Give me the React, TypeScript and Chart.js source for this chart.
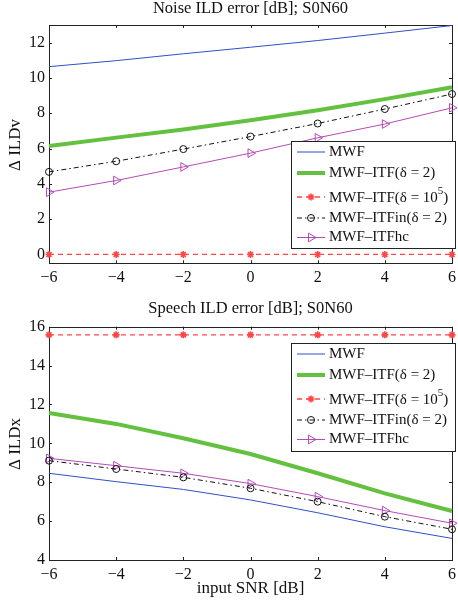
import React, { useEffect, useRef } from 'react';
import { Chart, registerables } from 'chart.js';
import { drawPoint } from 'chart.js/helpers';

Chart.register(...registerables);

const snr = [-6, -4, -2, 0, 2, 4, 6];
const xTicks = [-6, -4, -2, 0, 2, 4, 6];

const seriesLabels = ['MWF', 'MWF–ITF(δ = 2)', 'MWF–ITF(δ = 10^5)', 'MWF–ITFin(δ = 2)', 'MWF–ITFhc'];

const noiseMWF = [10.64, 10.98, 11.37, 11.74, 12.12, 12.54, 12.97];
const noiseITF = [6.15, 6.62, 7.08, 7.6, 8.17, 8.8, 9.47];
const noiseITF1e5 = [0, 0, 0, 0, 0, 0, 0];
const noiseITFin = [4.68, 5.28, 5.97, 6.68, 7.42, 8.24, 9.09];
const noiseITFhc = [3.53, 4.19, 4.96, 5.74, 6.61, 7.39, 8.31];
const noiseYTicks = [0, 2, 4, 6, 8, 10, 12];

const speechMWF = [8.46, 8.03, 7.63, 7.09, 6.43, 5.71, 5.11];
const speechITF = [11.56, 11.0, 10.26, 9.45, 8.46, 7.43, 6.52];
const speechITF1e5 = [15.58, 15.58, 15.58, 15.58, 15.58, 15.58, 15.58];
const speechITFin = [9.11, 8.68, 8.25, 7.69, 7.0, 6.23, 5.58];
const speechITFhc = [9.23, 8.85, 8.46, 7.93, 7.26, 6.54, 5.89];
const speechYTicks = [4, 6, 8, 10, 12, 14, 16];

const FONT = "'Liberation Serif', 'Times New Roman', serif";

const styles = [
  { color: '#2f4fc6', width: 1, dash: [], point: false as any, radius: 0, rot: 0 },
  { color: '#63c13f', width: 4, dash: [], point: false as any, radius: 0, rot: 0 },
  { color: '#ff4646', width: 1.3, dash: [5, 4], point: 'star', radius: 3.5, rot: 0 },
  { color: '#111111', width: 1, dash: [5, 3, 1.5, 3], point: 'circle', radius: 3.5, rot: 0 },
  { color: '#b44ab4', width: 1, dash: [], point: 'triangle', radius: 5, rot: 90 },
];

function makeDatasets(values: number[][]) {
  return values.map((vals, i) => {
    const s = styles[i];
    return {
      label: seriesLabels[i],
      data: snr.map((x, j) => ({ x, y: vals[j] })),
      borderColor: s.color,
      borderWidth: s.width,
      borderDash: s.dash,
      pointStyle: s.point || 'circle',
      pointRadius: s.radius,
      pointRotation: s.rot,
      pointBorderColor: s.color,
      pointBackgroundColor: i === 2 ? s.color : 'rgba(0,0,0,0)',
      pointBorderWidth: i === 2 ? 1.6 : 1,
      tension: 0,
      clip: false as any,
      order: i,
    };
  });
}

const panelPlugin = {
  id: 'panel',
  beforeDatasetsDraw(chart: any, _args: any, opts: any) {
    const { ctx, chartArea: a } = chart;
    const xs = chart.scales.x;
    const ys = chart.scales.y;
    ctx.save();
    ctx.strokeStyle = '#222';
    ctx.lineWidth = 1;
    ctx.setLineDash([]);
    ctx.strokeRect(Math.round(a.left) + 0.5, Math.round(a.top) + 0.5, Math.round(a.right - a.left), Math.round(a.bottom - a.top));
    const tl = 3;
    ctx.beginPath();
    for (const v of xTicks) {
      const px = Math.round(xs.getPixelForValue(v)) + 0.5;
      ctx.moveTo(px, a.bottom);
      ctx.lineTo(px, a.bottom - tl);
      ctx.moveTo(px, a.top);
      ctx.lineTo(px, a.top + tl);
    }
    for (const v of opts.yTicks) {
      const py = Math.round(ys.getPixelForValue(v)) + 0.5;
      ctx.moveTo(a.left, py);
      ctx.lineTo(a.left + tl, py);
      ctx.moveTo(a.right, py);
      ctx.lineTo(a.right - tl, py);
    }
    ctx.stroke();
    ctx.restore();
  },
  afterDatasetsDraw(chart: any, _args: any, opts: any) {
    const { ctx, chartArea: a } = chart;
    ctx.save();
    // title
    ctx.fillStyle = '#111';
    ctx.font = `16.5px ${FONT}`;
    ctx.textAlign = 'center';
    ctx.textBaseline = 'alphabetic';
    ctx.fillText(opts.title, (a.left + a.right) / 2, opts.titleY);
    if (opts.xlabel) {
      ctx.font = `17px ${FONT}`;
      ctx.fillText(opts.xlabel, (a.left + a.right) / 2, opts.xlabelY);
    }
    // y label
    ctx.save();
    ctx.font = `17px ${FONT}`;
    ctx.translate(opts.ylabelX, opts.ylabelY);
    ctx.rotate(-Math.PI / 2);
    ctx.textBaseline = 'middle';
    ctx.fillText(opts.ylabel, 0, 0);
    ctx.restore();

    // legend
    const b = opts.legendBox;
    ctx.fillStyle = '#fff';
    ctx.fillRect(b.x, b.y, b.w, b.h);
    ctx.strokeStyle = '#222';
    ctx.lineWidth = 1;
    ctx.setLineDash([]);
    ctx.strokeRect(b.x + 0.5, b.y + 0.5, b.w, b.h);
    const rows = [11, 32, 56, 77, 96.5];
    chart.data.datasets.forEach((ds: any, i: number) => {
      const y = b.y + rows[i];
      const s = styles[i];
      const x0 = b.x + 6;
      const x1 = b.x + 34;
      ctx.save();
      ctx.strokeStyle = s.color;
      ctx.lineWidth = s.width;
      ctx.setLineDash(s.dash);
      ctx.beginPath();
      ctx.moveTo(x0, y);
      ctx.lineTo(x1, y);
      ctx.stroke();
      ctx.restore();
      if (s.point) {
        ctx.save();
        ctx.strokeStyle = s.color;
        ctx.fillStyle = i === 2 ? s.color : 'rgba(0,0,0,0)';
        ctx.lineWidth = i === 2 ? 1.6 : 1;
        ctx.setLineDash([]);
        drawPoint(ctx, { pointStyle: s.point, rotation: s.rot, radius: s.radius, borderWidth: ctx.lineWidth } as any, (x0 + x1) / 2, y);
        ctx.restore();
      }
      // text
      ctx.fillStyle = '#111';
      ctx.font = `15px ${FONT}`;
      ctx.textAlign = 'left';
      ctx.textBaseline = 'middle';
      const label: string = ds.label;
      let tx = b.x + 38;
      if (label.includes('^')) {
        const [pre, rest] = label.split('^');
        const sup = rest.slice(0, 1);
        const post = rest.slice(1);
        ctx.fillText(pre, tx, y + 1);
        tx += ctx.measureText(pre).width;
        ctx.font = `11px ${FONT}`;
        ctx.fillText(sup, tx, y - 6);
        tx += ctx.measureText(sup).width;
        ctx.font = `15px ${FONT}`;
        ctx.fillText(post, tx, y + 1);
      } else {
        ctx.fillText(label, tx, y);
      }
    });
    ctx.restore();
  },
};

function makeConfig(p: any): any {
  return {
    type: 'line',
    data: { datasets: makeDatasets(p.values) },
    plugins: [panelPlugin],
    options: {
      animation: false,
      responsive: false,
      maintainAspectRatio: false,
      layout: { padding: { left: 0, right: 3, top: p.padTop, bottom: 0 } },
      plugins: {
        legend: { display: false },
        tooltip: { enabled: false },
        title: { display: false },
        panel: {
          title: p.title,
          titleY: p.titleY,
          xlabel: p.xlabel,
          xlabelY: p.xlabelY,
          ylabel: p.ylabel,
          ylabelX: 16,
          ylabelY: p.ylabelY,
          yTicks: p.yTicks,
          legendBox: p.legendBox,
        },
      },
      scales: {
        x: {
          type: 'linear',
          min: -6,
          max: 6,
          afterFit: (s: any) => {
            s.height = p.xHeight;
            s.paddingLeft = 0;
            s.paddingRight = 0;
          },
          afterBuildTicks: (s: any) => { s.ticks = xTicks.map((v) => ({ value: v })); },
          grid: { display: false, drawTicks: false },
          border: { display: false },
          ticks: {
            padding: 5,
            color: '#111',
            font: { family: FONT, size: 16 },
            maxRotation: 0,
            autoSkip: false,
            callback: (v: number) => String(v).replace('-', '−'),
          },
        },
        y: {
          type: 'linear',
          min: p.yMin,
          max: p.yMax,
          afterFit: (s: any) => {
            s.width = 49;
            s.paddingTop = 0;
            s.paddingBottom = 0;
          },
          afterBuildTicks: (s: any) => { s.ticks = p.yTicks.map((v: number) => ({ value: v })); },
          grid: { display: false, drawTicks: false },
          border: { display: false },
          ticks: {
            padding: 4,
            color: '#111',
            font: { family: FONT, size: 16 },
            autoSkip: false,
            callback: (v: number) => String(v).replace('-', '−'),
          },
        },
      },
    },
  };
}

const topPanel = {
  values: [noiseMWF, noiseITF, noiseITF1e5, noiseITFin, noiseITFhc],
  title: 'Noise ILD error [dB]; S0N60',
  titleY: 12.5,
  xlabel: '',
  xlabelY: 0,
  ylabel: 'Δ ILDv',
  ylabelY: 145,
  yTicks: noiseYTicks,
  yMin: -0.5,
  yMax: 13,
  padTop: 25,
  xHeight: 36.7,
  legendBox: { x: 291, y: 141, w: 164, h: 107 },
};

const bottomPanel = {
  values: [speechMWF, speechITF, speechITF1e5, speechITFin, speechITFhc],
  title: 'Speech ILD error [dB]; S0N60',
  titleY: 12.7,
  xlabel: 'input SNR [dB]',
  xlabelY: 293,
  ylabel: 'Δ ILDx',
  ylabelY: 144,
  yTicks: speechYTicks,
  yMin: 4,
  yMax: 16,
  padTop: 26.7,
  xHeight: 44,
  legendBox: { x: 291, y: 43, w: 164, h: 108 },
};

function Panel({ cfg, top, height }: { cfg: any; top: number; height: number }) {
  const ref = useRef<HTMLCanvasElement>(null);
  useEffect(() => {
    if (!ref.current) return;
    const chart = new Chart(ref.current, makeConfig(cfg));
    return () => chart.destroy();
  }, [cfg]);
  return (
    <canvas
      ref={ref}
      width={458}
      height={height}
      style={{ position: 'absolute', left: 0, top, width: 458, height, display: 'block' }}
    />
  );
}

export default function App() {
  return (
    <div style={{ position: 'fixed', left: 0, top: 0, width: 458, height: 604, background: '#fff', overflow: 'hidden' }}>
      <Panel cfg={topPanel} top={0} height={300} />
      <Panel cfg={bottomPanel} top={300} height={304} />
    </div>
  );
}
